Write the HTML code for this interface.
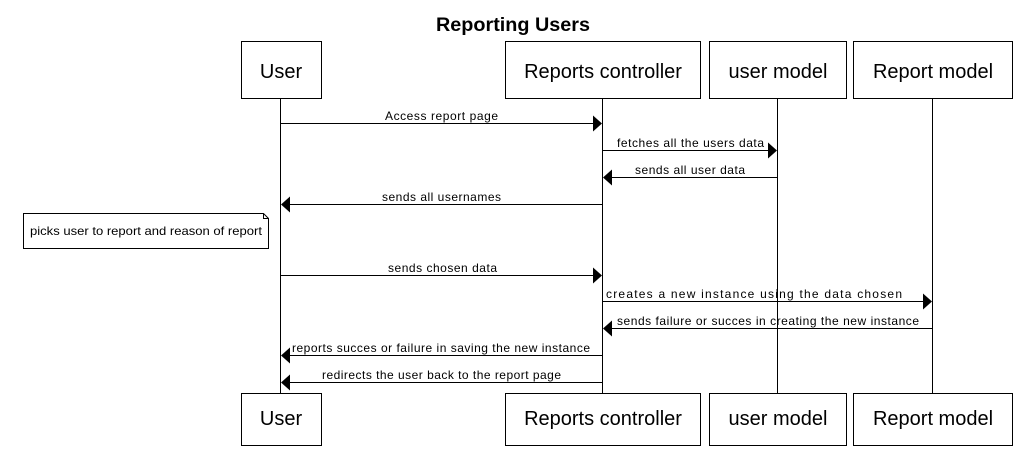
<!DOCTYPE html>
<html><head><meta charset="utf-8"><style>
html,body{margin:0;padding:0;background:#fff;width:1025px;height:466px;overflow:hidden}
text{font-family:"Liberation Sans",Arial,sans-serif;fill:#000}
</style></head><body>
<svg width="1025" height="466" viewBox="0 0 1025 466" xmlns="http://www.w3.org/2000/svg">
<text x="436" y="31" font-size="19" font-weight="bold" textLength="154" lengthAdjust="spacingAndGlyphs">Reporting Users</text>
<g stroke="#000" stroke-width="1" fill="none">
<line x1="280.5" y1="98" x2="280.5" y2="393"/>
<line x1="602.5" y1="98" x2="602.5" y2="393"/>
<line x1="777.5" y1="98" x2="777.5" y2="393"/>
<line x1="932.5" y1="98" x2="932.5" y2="393"/>
<rect x="241.5" y="41.5" width="80" height="57" fill="#fff"/>
<rect x="505.5" y="41.5" width="195" height="57" fill="#fff"/>
<rect x="709.5" y="41.5" width="137" height="57" fill="#fff"/>
<rect x="853.5" y="41.5" width="159" height="57" fill="#fff"/>
<rect x="241.5" y="393.5" width="80" height="52" fill="#fff"/>
<rect x="505.5" y="393.5" width="195" height="52" fill="#fff"/>
<rect x="709.5" y="393.5" width="137" height="52" fill="#fff"/>
<rect x="853.5" y="393.5" width="159" height="52" fill="#fff"/>
<path d="M23.5 213.5 H263.5 L268.5 218.5 V248.5 H23.5 Z M263.5 213.5 V218.5 H268.5" fill="#fff"/>
</g>
<g font-size="20" text-anchor="middle">
<text x="281" y="78">User</text><text x="603" y="78">Reports controller</text><text x="778" y="78">user model</text><text x="933" y="78">Report model</text>
<text x="281" y="425">User</text><text x="603" y="425">Reports controller</text><text x="778" y="425">user model</text><text x="933" y="425">Report model</text>
</g>
<text x="30" y="235" font-size="12" textLength="232" lengthAdjust="spacingAndGlyphs">picks user to report and reason of report</text>
<g stroke="#000" stroke-width="1">
<line x1="281" y1="123.5" x2="594" y2="123.5"/>
<line x1="603" y1="150.5" x2="769" y2="150.5"/>
<line x1="611" y1="177.5" x2="777" y2="177.5"/>
<line x1="289" y1="204.5" x2="602" y2="204.5"/>
<line x1="281" y1="275.5" x2="594" y2="275.5"/>
<line x1="603" y1="301.5" x2="924" y2="301.5"/>
<line x1="611" y1="328.5" x2="932" y2="328.5"/>
<line x1="289" y1="355.5" x2="602" y2="355.5"/>
<line x1="289" y1="382.5" x2="602" y2="382.5"/>
</g>
<g fill="#000">
<polygon points="602,123.5 593,115.5 593,131.5"/>
<polygon points="777,150.5 768,142.5 768,158.5"/>
<polygon points="603,177.5 612,169.5 612,185.5"/>
<polygon points="281,204.5 290,196.5 290,212.5"/>
<polygon points="602,275.5 593,267.5 593,283.5"/>
<polygon points="932,301.5 923,293.5 923,309.5"/>
<polygon points="603,328.5 612,320.5 612,336.5"/>
<polygon points="281,355.5 290,347.5 290,363.5"/>
<polygon points="281,382.5 290,374.5 290,390.5"/>
</g>
<g font-size="12" lengthAdjust="spacingAndGlyphs">
<text x="385" y="120" textLength="113">Access report page</text>
<text x="617" y="147" textLength="147">fetches all the users data</text>
<text x="635" y="174" textLength="110">sends all user data</text>
<text x="382" y="201" textLength="119">sends all usernames</text>
<text x="388" y="272" textLength="109">sends chosen data</text>
<text x="606" y="298" textLength="296">creates a new instance using the data chosen</text>
<text x="617" y="325" textLength="302">sends failure or succes in creating the new instance</text>
<text x="292" y="352" textLength="298">reports succes or failure in saving the new instance</text>
<text x="322" y="379" textLength="239">redirects the user back to the report page</text>
</g>
</svg>
</body></html>
